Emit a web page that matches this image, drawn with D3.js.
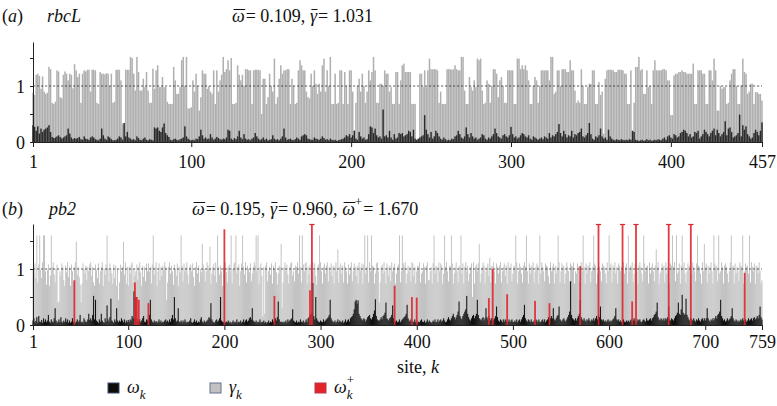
<!DOCTYPE html>
<html><head><meta charset="utf-8">
<script src="https://cdn.jsdelivr.net/npm/d3@7"></script>
<style>
body{margin:0;background:#fff}
svg{display:block}
text{font-family:"Liberation Serif","Times New Roman",serif;fill:#111;white-space:pre}
</style>
</head><body>
<svg id="chart" width="777" height="406"></svg>
<script>
// ---------- DATA (values in hundredths) ----------
const rbclGamma=[
88,84,120,122,118,95,117,90,86,88,134,130,70,68,72,128,126,80,78,120,
126,122,110,122,120,96,139,128,116,122,70,122,128,126,129,129,90,129,129,128,
70,68,125,122,122,121,123,122,100,122,70,72,129,129,129,110,33,30,129,129,
129,152,150,122,92,152,125,92,92,113,98,125,92,70,70,131,95,128,137,98,
98,116,98,98,72,68,68,68,134,110,86,86,98,146,152,100,152,60,60,62,
110,90,122,100,56,80,128,122,122,95,100,90,86,128,68,128,90,110,120,152,
125,130,146,128,150,68,68,70,137,120,110,120,100,130,130,128,128,68,128,129,
129,129,128,50,113,113,68,80,122,100,90,149,68,80,113,137,122,128,128,130,
130,68,113,100,68,70,128,146,137,128,128,90,80,78,122,100,128,104,86,104,
90,137,149,90,128,100,152,68,68,122,68,70,128,128,68,125,100,68,128,128,
90,21,70,100,113,90,122,100,70,90,128,110,125,152,128,70,70,104,104,100,
128,122,122,90,98,68,68,125,125,68,110,137,140,125,125,125,125,68,68,68,
4,4,122,122,98,128,98,128,149,130,130,130,130,128,70,90,68,68,68,130,
130,130,129,130,137,130,128,128,152,152,92,68,68,116,98,92,110,98,149,146,
149,92,68,70,110,104,70,100,130,130,122,80,110,116,100,70,70,128,128,128,
128,68,68,149,149,130,137,130,137,128,110,68,68,100,116,110,70,100,128,128,
128,128,128,110,152,152,86,90,128,128,100,130,130,130,125,125,146,128,128,92,
70,74,70,130,100,68,68,98,104,104,128,128,68,68,107,84,90,15,113,128,
129,129,129,128,125,125,129,129,129,128,122,122,68,68,128,20,70,134,134,152,
128,130,86,86,128,98,100,68,128,146,128,128,128,128,130,130,128,110,110,48,
48,119,122,122,125,125,128,125,125,122,122,122,122,140,68,68,128,128,128,122,
122,68,68,128,128,110,149,128,56,56,100,95,98,98,68,70,110,122,130,130,
100,68,68,101,149,125,122,86,90,104,104,68,89,89,86,86,74];
const rbclOmega=[
30,27,20,28,15,24,18,22,24,26,30,18,9,7,8,10,12,9,6,8,
10,12,24,15,8,5,7,6,7,9,5,4,10,6,5,4,8,10,8,5,
4,3,6,24,12,6,4,10,8,5,3,3,4,6,10,8,4,34,10,18,
8,6,4,5,3,10,7,4,3,6,8,4,3,5,4,3,26,24,26,20,
18,26,33,16,12,9,4,3,5,6,4,3,5,6,8,28,10,6,4,3,
4,3,6,5,10,22,12,6,8,5,6,14,8,4,6,9,7,5,4,6,
5,8,22,20,6,4,7,5,10,20,8,5,14,6,4,5,3,6,8,16,
10,6,4,5,8,4,6,3,4,5,12,6,4,5,3,6,10,24,8,4,
5,6,4,3,5,8,6,4,10,12,14,12,6,5,4,4,8,6,5,4,
6,10,7,4,5,3,6,4,3,4,2,3,4,5,6,8,12,10,14,8,
12,20,6,4,18,10,6,8,4,5,14,28,26,16,24,12,8,10,6,58,
10,12,8,20,8,4,14,6,8,16,14,16,10,12,14,20,18,10,22,6,
4,6,8,10,12,48,22,14,8,18,6,10,20,16,10,6,4,8,5,3,
4,3,6,5,10,12,20,14,8,6,10,26,14,8,16,10,6,8,4,6,
8,14,12,6,4,8,6,10,14,24,16,10,8,6,12,14,10,8,12,27,
14,8,10,6,8,12,16,14,10,8,12,6,4,10,8,6,4,6,8,5,
10,8,6,16,8,12,10,14,18,32,16,10,20,14,8,12,10,20,8,14,
12,16,18,24,10,8,12,16,34,14,6,4,10,8,12,24,10,6,8,4,
22,10,6,4,3,5,4,3,5,4,3,4,3,5,4,20,18,4,3,2,
3,4,2,3,5,3,4,2,3,4,3,5,4,3,6,8,4,10,12,8,
6,14,12,8,10,16,18,22,20,16,10,14,8,10,18,16,20,6,10,14,
22,18,14,10,16,20,24,12,22,16,10,14,18,37,12,24,26,18,8,10,
12,16,49,10,30,22,28,14,10,6,8,16,22,18,12,20,35];
const pb2Gamma=[
100,92,110,84,160,76,108,160,98,84,112,160,160,96,72,98,108,70,88,160,
104,112,90,76,100,108,40,42,96,88,110,104,80,70,106,94,112,86,104,70,
108,96,78,104,112,149,90,104,86,72,40,74,110,100,92,106,80,104,96,108,
112,88,104,76,70,108,98,84,110,74,96,104,112,70,100,90,108,160,102,78,
110,98,92,74,108,84,106,70,100,45,76,108,96,104,149,90,112,74,104,70,
104,92,108,112,76,100,88,96,108,80,104,112,94,70,106,86,104,78,110,96,
110,96,104,74,108,160,90,104,112,70,96,110,80,104,88,106,98,112,104,45,
76,104,112,92,106,96,72,108,100,88,110,70,104,94,160,106,78,110,96,104,
112,90,74,104,108,96,110,86,70,104,112,92,106,76,100,94,145,108,100,78,
96,112,106,100,140,74,92,104,110,88,112,76,160,104,90,106,96,70,104,108,
112,94,76,104,108,96,160,74,100,110,112,160,92,104,108,70,96,110,160,104,
90,112,76,106,100,94,110,78,92,104,112,106,160,96,160,74,104,110,88,15,
104,20,106,112,78,96,104,90,110,74,106,100,112,94,72,92,106,104,145,30,
76,104,112,96,108,90,74,104,110,112,88,96,78,106,104,112,92,160,104,76,
160,108,96,110,112,74,104,90,108,76,104,112,96,110,88,72,104,108,160,112,
96,74,104,110,92,106,112,78,104,96,110,88,106,74,104,112,96,135,76,104,
110,92,106,76,112,104,96,74,108,90,104,112,78,96,110,104,88,106,74,112,
104,96,110,74,108,160,92,104,160,76,112,96,160,106,104,74,92,110,112,96,
40,76,104,108,92,112,96,74,110,104,88,106,78,112,96,104,110,74,92,104,
108,160,76,96,160,110,104,112,74,92,106,96,104,78,112,110,88,104,74,96,
106,104,112,76,92,96,110,104,74,106,112,80,80,96,104,74,110,160,92,106,
104,76,112,96,110,106,74,92,160,104,112,96,78,106,104,160,110,74,92,104,
112,96,76,106,104,160,92,110,74,104,112,96,106,78,92,104,110,50,112,74,
104,108,96,110,145,76,92,104,112,106,74,96,104,110,88,120,76,106,104,112,
96,74,110,104,92,106,112,76,96,104,110,88,106,74,112,104,96,110,78,92,
106,104,160,112,74,96,110,104,92,76,106,112,104,160,96,74,110,92,106,104,
112,76,96,104,110,106,74,160,92,112,104,96,78,110,106,104,88,74,112,96,
104,110,74,106,92,104,160,112,76,96,110,104,106,74,92,112,104,96,78,110,
106,104,112,74,96,92,110,104,78,106,112,96,160,104,74,110,92,106,104,112,
76,96,104,160,110,106,74,92,112,104,96,78,110,106,104,92,74,112,96,160,
104,110,76,106,96,112,92,104,74,110,106,96,104,78,112,92,104,110,74,160,
96,106,104,112,76,92,110,104,96,74,106,112,104,92,78,160,110,96,104,106,
74,112,92,104,110,96,78,106,135,104,112,74,92,96,110,104,106,76,112,92,
104,96,74,110,106,160,104,112,78,160,92,96,110,74,106,160,104,112,92,76,
96,110,104,106,74,92,112,104,96,78,110,160,106,104,92,74,112,96,145,104,
110,76,106,92,104,112,96,74,160,110,104,106,78,160,92,96,112,104,74,106,
110,104,92,76,96,112,160,104,106,74,110,92,104,96,78,112,106,104,160,74,
96,110,104,106,92,160,76,112,104,96,110,74,106,104,92,112,96,74,80];
const pb2Omega=[
8,12,5,7,14,4,16,6,5,9,4,12,6,10,5,8,18,6,4,10,
6,5,12,30,8,4,6,10,5,14,6,4,8,5,12,6,10,4,8,4,
6,12,5,8,4,6,10,5,8,18,5,6,4,12,8,5,6,10,20,9,
12,8,18,52,10,45,8,6,4,10,6,20,8,5,4,12,6,35,10,6,
14,47,8,6,4,10,6,30,8,5,8,6,12,8,5,10,4,8,5,9,
5,10,8,16,12,60,10,50,12,6,8,10,5,8,12,16,6,5,10,8,
12,18,45,10,6,4,8,5,7,4,6,10,5,8,4,6,5,8,10,6,
8,5,10,6,12,18,10,50,12,6,8,30,6,5,8,4,8,5,10,6,
4,6,5,8,12,5,4,6,10,5,8,4,6,5,10,14,6,4,8,5,
6,8,10,14,12,39,10,6,5,4,8,10,6,8,12,50,8,6,5,6,
4,6,5,8,4,6,3,5,8,4,6,5,10,4,6,5,8,4,6,10,
5,8,10,6,8,12,14,10,30,8,6,5,8,4,6,5,10,4,6,5,
8,4,6,3,5,8,4,6,5,10,6,10,12,8,14,42,10,6,5,6,
4,6,5,8,4,10,6,8,10,12,28,8,6,5,8,4,6,5,10,6,
5,8,4,6,10,5,12,14,18,20,24,75,16,10,50,12,8,6,5,8,
6,5,10,6,8,10,12,14,18,45,12,8,6,5,8,4,6,10,5,8,
6,5,8,4,6,10,5,8,10,6,12,14,16,20,28,42,45,38,44,20,
16,12,10,8,12,10,6,10,14,16,18,12,10,14,20,26,46,16,10,8,
8,10,14,10,16,18,22,40,12,10,8,12,14,18,35,12,8,6,8,5,
6,10,5,8,10,12,14,16,20,36,12,8,6,10,8,5,6,10,5,8,
4,6,5,8,10,6,5,8,4,6,10,5,8,6,4,5,8,6,10,5,
6,10,5,8,10,6,8,12,8,5,6,10,14,10,8,12,16,20,14,10,
14,18,24,42,16,12,10,16,20,24,28,52,20,14,10,8,12,16,18,12,
16,20,45,18,12,10,8,12,14,8,12,30,14,10,16,12,8,12,10,8,
12,16,33,14,8,6,10,8,5,10,6,10,8,5,6,10,5,8,10,6,
5,8,6,10,5,8,10,6,10,14,18,36,12,8,6,10,8,5,10,6,
5,8,6,10,8,5,10,6,5,8,10,6,10,5,8,10,14,8,12,16,
12,30,10,8,12,16,18,33,10,8,6,10,12,8,6,10,14,18,24,78,
18,12,10,8,12,8,12,16,20,44,14,10,8,12,8,6,10,8,12,8,
6,10,8,12,8,12,16,10,18,14,33,10,8,10,6,8,5,8,10,6,
8,6,8,10,12,16,30,10,8,10,6,8,5,8,10,6,5,8,6,8,
5,8,10,6,8,12,8,5,6,10,8,10,6,5,8,10,8,6,12,8,
8,10,12,8,12,14,18,20,24,40,14,10,8,12,10,8,12,8,12,10,
14,33,10,8,12,10,8,12,16,18,22,40,20,18,28,54,22,18,20,47,
18,14,10,8,12,10,8,12,8,6,10,8,12,8,6,10,12,8,12,8,
12,30,12,8,6,10,8,12,8,12,16,12,18,20,24,45,16,12,8,10,
6,8,12,8,10,12,16,30,12,8,6,10,8,5,8,6,10,8,12,8,
8,10,6,8,12,8,10,12,8,12,14,10,12,16,12,18,33,14,10];
// positively selected sites (omega+): site number and value (values above the axis top run off it)
const pb2PlusSites =[44,107,109,111,121,200,252,289,291,377,395,400,475,479,494,523,538,570,589,614,624,628,662,685,741];
const pb2PlusValues=[0.80,0.76,0.50,0.45,0.39,1.71,0.52,0.62,2.4,0.70,0.50,0.49,0.48,1.00,0.55,0.43,0.39,1.05,2.6,2.3,0.42,2.2,2.5,2.4,0.93];
const rbclTicks=[1,100,200,300,400,457];
const pb2Ticks=[1,100,200,300,400,500,600,700,759];
const yTicks=[0,0.5,1,1.5];
const yLabelled=[0,1];

// ---------- DRAW ----------
const svg=d3.select('#chart');
const X0=33, X1=762;

// sequential text pieces; over: overline bar, sup: superscript, sub: subscript
function seq(x,y,parts,size){
  let cx=x;
  parts.forEach(p=>{
    let fs=size, yy=y, px=cx;
    if(p.sup){fs=13; yy=y-9;}
    if(p.sub){fs=13; yy=y+6;}
    const t=svg.append('text').attr('x',px).attr('y',yy).attr('xml:space','preserve')
      .style('font-size',fs+'px').text(p.t);
    if(p.i) t.style('font-style','italic');
    const w=t.node().getComputedTextLength();
    if(p.over){
      svg.append('line').attr('x1',px+1.5).attr('x2',px+w+0.5).attr('y1',y-12.5).attr('y2',y-12.5)
        .attr('stroke','#111').attr('stroke-width',1);
    }
    if(!p.stay) cx=px+w;
    if(p.gap) cx+=p.gap;
  });
}

function panel(cfg){
  const g=svg.append('g');
  const n=cfg.gamma.length;
  const x=d3.scaleLinear().domain([1,n]).range([X0,X1]);
  const y=d3.scaleLinear().domain([0,cfg.ymax]).range([cfg.y0,cfg.ytop]);
  const step=(X1-X0)/(n-1);
  const clip=v=>Math.min(v,cfg.ymax);
  const gw=step*cfg.gfrac;
  g.append('g').selectAll('rect').data(cfg.gamma).join('rect')
    .attr('x',(d,i)=>x(i+1)-gw/2).attr('width',gw)
    .attr('y',d=>y(clip(d/100))).attr('height',d=>cfg.y0-y(clip(d/100)))
    .attr('fill',cfg.grey);
  g.append('line').attr('x1',X0).attr('x2',X1).attr('y1',y(1)).attr('y2',y(1))
    .attr('stroke','#333').attr('stroke-width',0.8).attr('stroke-dasharray','2.2,1.8');
  const ow=step*cfg.ofrac;
  g.append('g').selectAll('rect').data(cfg.omega).join('rect')
    .attr('x',(d,i)=>x(i+1)-ow/2).attr('width',ow)
    .attr('y',d=>y(clip(d/100))).attr('height',d=>cfg.y0-y(clip(d/100)))
    .attr('fill',cfg.dark);
  if(cfg.plusSites){
    const pd=cfg.plusSites.map((s,i)=>({s:s,v:cfg.plusValues[i]}));
    const pg=g.append('g');
    pg.selectAll('rect').data(pd).join('rect')
      .attr('x',d=>x(d.s)-0.9).attr('width',1.8)
      .attr('y',d=>y(clip(d.v))).attr('height',d=>cfg.y0-y(clip(d.v)))
      .attr('fill','#e0262c').attr('opacity',0.9);
    pg.selectAll('line').data(pd.filter(d=>d.v>cfg.ymax)).join('line')
      .attr('x1',d=>x(d.s)-2.6).attr('x2',d=>x(d.s)+2.6)
      .attr('y1',y(cfg.ymax)+0.5).attr('y2',y(cfg.ymax)+0.5)
      .attr('stroke','#e0262c').attr('stroke-width',1.2);
  }
  const ax=g.append('g').attr('transform',`translate(0,${cfg.y0})`)
    .call(d3.axisBottom(x).tickValues(cfg.ticks).tickFormat(d3.format('d')).tickSize(5).tickSizeOuter(0));
  ax.select('.domain').attr('stroke','#222').attr('stroke-width',1);
  ax.selectAll('.tick line').attr('stroke','#222');
  ax.selectAll('.tick text').attr('y',cfg.labelY).attr('dy',0).style('font-size','18px')
    .style('font-family','"Liberation Serif",serif').attr('fill','#111');
  const ay=g.append('g').attr('transform',`translate(${X0},0)`)
    .call(d3.axisLeft(y).tickValues(yTicks).tickFormat(d=>yLabelled.includes(d)?d3.format('d')(d):'').tickSize(3).tickSizeOuter(0).tickPadding(5));
  ay.select('.domain').attr('stroke','#222').attr('stroke-width',1);
  ay.selectAll('.tick line').attr('stroke','#222');
  ay.selectAll('.tick text').style('font-size','18px').style('font-family','"Liberation Serif",serif').attr('fill','#111').attr('dy','0.34em');
}

panel({gamma:rbclGamma,omega:rbclOmega,ymax:1.786,y0:142,ytop:42,gfrac:0.95,ofrac:0.92,
  grey:'#b0b0b0',dark:'#2b2b2b',ticks:rbclTicks,labelY:26});
panel({gamma:pb2Gamma,omega:pb2Omega,ymax:1.804,y0:325,ytop:224,gfrac:0.9,ofrac:1.1,
  grey:'#bababa',dark:'#111111',ticks:pb2Ticks,labelY:23,plusSites:pb2PlusSites,plusValues:pb2PlusValues});

// titles
seq(2,22,[{t:'('},{t:'a',i:true},{t:')'}],18);
seq(47,22,[{t:'rbcL',i:true}],18);
seq(232,22,[{t:'ω',i:true,over:true,gap:1},{t:'= 0.109, '},{t:'γ',i:true,over:true,gap:1},{t:'= 1.031'}],18);
seq(2,215,[{t:'('},{t:'b',i:true},{t:')'}],18);
seq(49,215,[{t:'pb2',i:true}],18);
seq(192,215,[{t:'ω',i:true,over:true,gap:1},{t:'= 0.195, '},{t:'γ',i:true,over:true,gap:1},{t:'= 0.960, '},
  {t:'ω',i:true,over:true},{t:'+',sup:true,gap:1},{t:'= 1.670'}],18);
seq(397,373,[{t:'site, '},{t:'k',i:true}],18);
// legend
const legFill=['#0b0b0b','#c2c2c2','#e4222a'];
const legStroke=['#3d4d6a','#5f7394','#b33a48'];
const legX=[108,210,315];
const legSym=['ω','γ','ω'];
legX.forEach((lx,i)=>{
  svg.append('rect').attr('x',lx).attr('y',383).attr('width',11).attr('height',10)
    .attr('fill',legFill[i]).attr('stroke',legStroke[i]).attr('stroke-width',1);
  const parts=[{t:legSym[i],i:true},{t:'k',i:true,sub:true,stay:i===2}];
  if(i===2) parts.push({t:'+',sup:true});
  seq(lx+19,393,parts,18);
});
</script>
</body></html>
